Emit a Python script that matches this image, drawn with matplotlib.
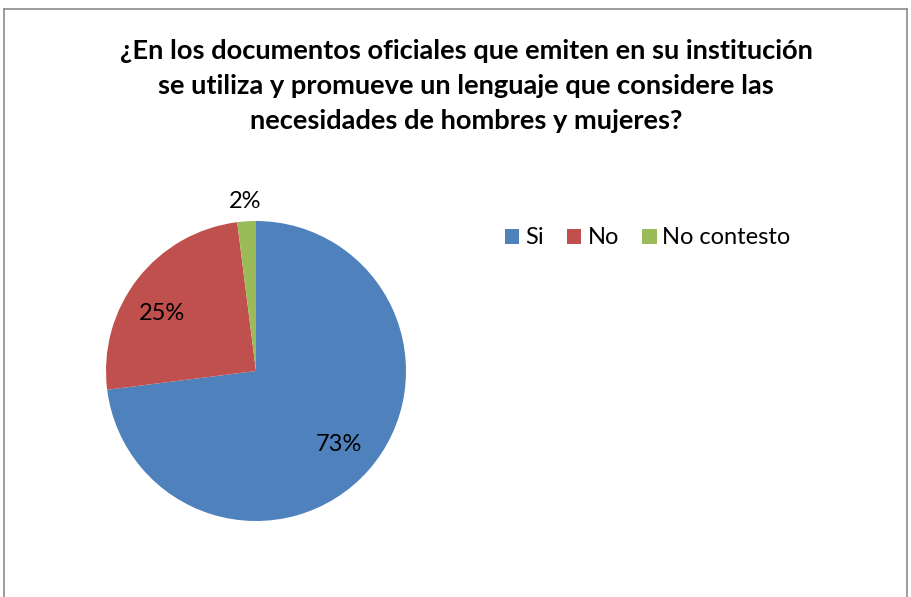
import matplotlib.pyplot as plt
import numpy as np
from matplotlib.lines import Line2D

labels = ['Si', 'No', 'No contesto']
values = [73, 25, 2]
colors = ['#4F81BD', '#C0504D', '#9BBB59']
title = ('¿En los documentos oficiales que emiten en su institución\n'
         'se utiliza y promueve un lenguaje que considere las\n'
         'necesidades de hombres y mujeres?')

plt.rcParams['font.family'] = ['Lato', 'DejaVu Sans']

fig = plt.figure(figsize=(9.11, 5.97), dpi=100)
W, H = 911, 597

# pie axes: center (256, 371), radius 150 px
ax = fig.add_axes([(256 - 150) / W, (H - 521) / H, 300 / W, 300 / H])
wedges, texts, autotexts = ax.pie(values, colors=colors, startangle=90,
                                  counterclock=False, autopct='%1.0f%%',
                                  pctdistance=0.74,
                                  textprops={'fontsize': 17, 'color': 'black'})
ax.set_xlim(-1, 1)
ax.set_ylim(-1, 1)
ax.set_aspect('equal')

# small slice label goes outside
w = wedges[2]
mid = np.deg2rad((w.theta1 + w.theta2) / 2)
autotexts[2].set_position((1.13 * np.cos(mid), 1.13 * np.sin(mid)))
x, y = autotexts[1].get_position()
autotexts[1].set_position((x - 0.04, y - 0.07))

fig.text(466 / W, 1 - 86 / H, title, ha='center', va='center',
         fontsize=19.6, fontweight='bold', linespacing=1.55)

fig.legend(wedges, labels, loc='center left', bbox_to_anchor=(505 / W, 1 - 238 / H),
           ncol=3, frameon=False, fontsize=17, handlelength=0.6, handleheight=0.6,
           handletextpad=0.25, columnspacing=1.0, borderpad=0, borderaxespad=0)

# chart border (bottom edge is cut off)
gray = '#8c8c8c'
fig.add_artist(Line2D([4 / W, 4 / W], [0, 1 - 9 / H], color=gray, lw=1.2))
fig.add_artist(Line2D([4 / W, 907 / W], [1 - 9 / H, 1 - 9 / H], color=gray, lw=1.2))
fig.add_artist(Line2D([907 / W, 907 / W], [0, 1 - 9 / H], color=gray, lw=1.2))

fig.savefig('out.png', dpi=100)
